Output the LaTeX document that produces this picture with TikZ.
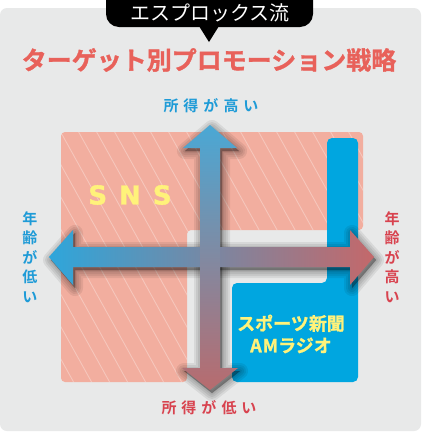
\documentclass[tikz,border=0pt]{standalone}
\usepackage{fontspec}
\newfontfamily\jp{Noto Sans CJK JP}[BoldFont={Noto Sans CJK JP Bold}]
\newfontfamily\jpheavy{Noto Sans CJK JP Bold}[FakeBold=1.2]
\newfontfamily\latheavy{DejaVu Sans Bold}[FakeBold=1.5]
\definecolor{bggray}{HTML}{E8E9E9}
\definecolor{pinkq}{HTML}{F2AE9F}
\definecolor{blueq}{HTML}{00A6E0}
\definecolor{titlered}{HTML}{E8615A}
\definecolor{labred}{HTML}{D8434F}
\definecolor{labblue}{HTML}{1E9BD7}
\definecolor{yel}{HTML}{FFF27A}
\definecolor{hblue}{HTML}{2EA6DB}
\definecolor{hred}{HTML}{C4686A}
\definecolor{vblue}{HTML}{4AA8D5}
\definecolor{vred}{HTML}{B86B6E}
\tikzset{
  axlab/.style={font=\jp\bfseries\fontsize{15}{19.5}\selectfont, inner sep=0pt, align=center},
  yeltext/.style={text=yel, inner sep=0pt, align=center},
  shadowlayer/.style={draw=black, fill=black, line join=round, opacity=0.07}
}
\def\harrow{(49,257) -- (73,230) -- (73,247) -- (350,247) -- (350,230) -- (374,257) -- (350,285) -- (350,267) -- (73,267) -- (73,285) -- cycle}
\def\varrow{(210,125) -- (237,148) -- (220,148) -- (220,368) -- (238,368) -- (210,390) -- (182,368) -- (200,368) -- (200,148) -- (183,148) -- cycle}
\begin{document}
\begin{tikzpicture}[x=1pt,y=-1pt]
\useasboundingbox (0,0) rectangle (430,445);
\fill[white] (0,0) rectangle (430,445);
\fill[bggray, rounded corners=7] (0,8) rectangle (421,431);
% callout
\fill[black, rounded corners=13] (106,-14) rectangle (313,27);
\fill[black] (199,26) -- (219,26) -- (209,42) -- cycle;
\node[text=white, font=\jp\fontsize{20}{20}\selectfont, inner sep=0pt] (callout) at (210,13) {エスプロックス流};
% title
\node[text=titlered, font=\jpheavy\fontsize{25}{25}\selectfont, inner sep=0pt] (title) at (209,60) {ターゲット別プロモーション戦略};
% pink L
\fill[pinkq, rounded corners=4] (61,132) -- (363,132) -- (363,230) -- (187,230) -- (187,382) -- (61,382) -- cycle;
\begin{scope}
\clip[rounded corners=4] (61,132) -- (363,132) -- (363,230) -- (187,230) -- (187,382) -- (61,382) -- cycle;
\foreach \k in {-9,...,20} \draw[white, opacity=0.3, line width=0.9pt] (\k*18,120) -- ++(150,270);
\end{scope}
% blue L
\fill[blueq, rounded corners=5] (327,138) -- (358,138) -- (358,382) -- (232,382) -- (232,283) -- (327,283) -- cycle;
% SNS
\node[yeltext, font=\latheavy\fontsize{26}{26}\selectfont] (sns) at (130,195) {S\hspace{12pt}N\hspace{12pt}S};
% sports / AM
\node[yeltext, font=\jpheavy\fontsize{18}{22}\selectfont] (media) at (291,334) {スポーツ新聞\\A\hspace{1pt}Mラジオ};
% arrow shadows
\begin{scope}[shift={(2,3)}]
\foreach \w in {16,12,8,4,1} {
  \path[shadowlayer, line width=\w pt] \harrow;
  \path[shadowlayer, line width=\w pt] \varrow;
}
\end{scope}
% horizontal arrow
\shade[left color=hblue, right color=hred] \harrow;
% vertical arrow
\shade[top color=vblue, bottom color=vred] \varrow;
% axis labels
\node[axlab, text=labblue] (hi) at (211,106) {所\hspace{5pt}得\hspace{5pt}が\hspace{5pt}高\hspace{5pt}い};
\node[axlab, text=labred] (lo) at (209,408) {所\hspace{5pt}得\hspace{5pt}が\hspace{5pt}低\hspace{5pt}い};
\node[axlab, text=labblue] (young) at (30,257) {年\\齢\\が\\低\\い};
\node[axlab, text=labred] (old) at (392,257) {年\\齢\\が\\高\\い};
\end{tikzpicture}
\end{document}
